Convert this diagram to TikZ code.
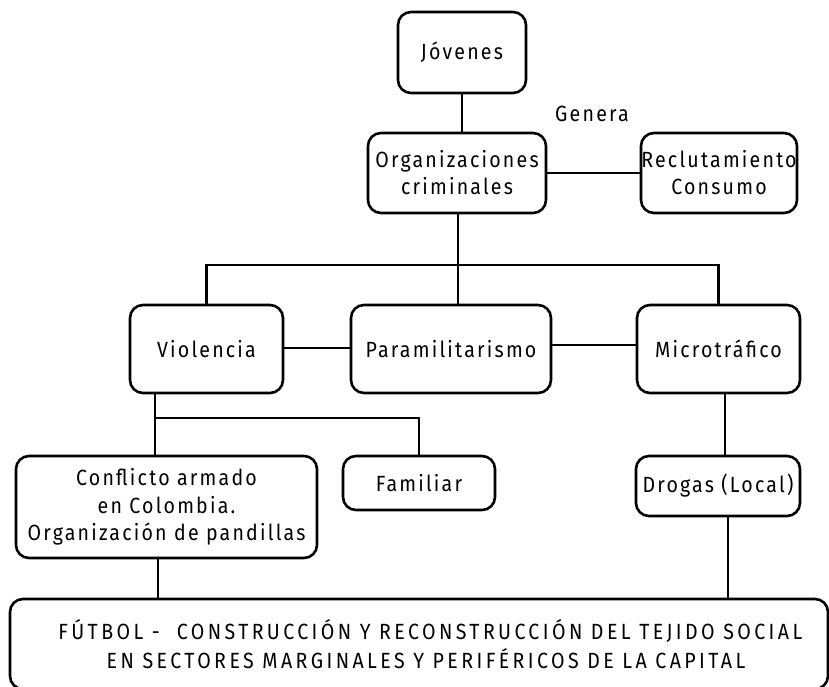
\documentclass[tikz,border=0pt]{standalone}
\usepackage{fontspec}
\setmainfont[FakeStretch=0.89,LetterSpace=10]{Fira Sans}
\newfontfamily\capsfont[FakeStretch=0.89,LetterSpace=15.5]{Fira Sans}
\begin{document}
\begin{tikzpicture}[x=1pt,y=-1pt,
  box/.style={draw,line width=2.6pt,rounded corners=13pt,align=center,inner sep=0pt,font=\fontsize{22}{27}\selectfont},
  link/.style={line width=2.4pt},
  lbl/.style={font=\fontsize{22}{27}\selectfont}]
\useasboundingbox (0,0) rectangle (829,687);
\node[box,minimum width=128pt,minimum height=81pt] (jov) at (462,52.5) {Jóvenes};
\node[box,minimum width=178pt,minimum height=80pt] (org) at (457,173) {Organizaciones\\criminales};
\node[box,minimum width=156pt,minimum height=80pt] (rec) at (719,173) {Reclutamiento\\Consumo};
\node[lbl] (gen) at (592,114) {Genera};
\node[box,minimum width=153pt,minimum height=88pt] (vio) at (206.5,349) {Violencia};
\node[box,minimum width=200pt,minimum height=88pt] (par) at (451,349) {Paramilitarismo};
\node[box,minimum width=163pt,minimum height=88pt] (mic) at (718.5,349) {Microtráfico};
\node[box,minimum width=301pt,minimum height=102pt,font=\fontsize{22}{27.5}\selectfont] (con) at (166.5,507) {Conflicto armado\\en Colombia.\\Organización de pandillas};
\node[box,minimum width=152pt,minimum height=54pt] (fam) at (419,483) {Familiar};
\node[box,minimum width=164pt,minimum height=60pt] (dro) at (718,486) {Drogas (Local)};
\node[box,minimum width=818pt,minimum height=90pt,font=\capsfont\fontsize{22}{29}\selectfont] (fut) at (419,644) {\hspace*{14pt}\ FÚTBOL -\ \ CONSTRUCCIÓN Y RECONSTRUCCIÓN DEL TEJIDO SOCIAL\\\hspace*{14pt}EN SECTORES MARGINALES Y PERIFÉRICOS DE LA CAPITAL};
\coordinate (br) at (458,265);
\coordinate (vbr) at (155,418);
\draw[link] (jov.south) -- (jov.south |- org.north);
\draw[link] (org.east |- 0,173) -- (rec.west |- 0,173);
\draw[link] (org.south -| br) -- (br);
\draw[link] (vio.north) |- (br) -| (mic.north);
\draw[link] (br) -- (br |- par.north);
\draw[link] (vio.east |- 0,348) -- (par.west |- 0,348);
\draw[link] (par.east |- 0,345) -- (mic.west |- 0,345);
\draw[link] (vio.south -| vbr) -- (vbr) -| (fam.north);
\draw[link] (vbr) -- (vbr |- con.north);
\draw[link] (mic.south -| 725,0) -- (dro.north -| 725,0);
\draw[link] (dro.south -| 728,0) -- (fut.north -| 728,0);
\draw[link] (con.south -| 158,0) -- (fut.north -| 158,0);
\end{tikzpicture}
\end{document}
